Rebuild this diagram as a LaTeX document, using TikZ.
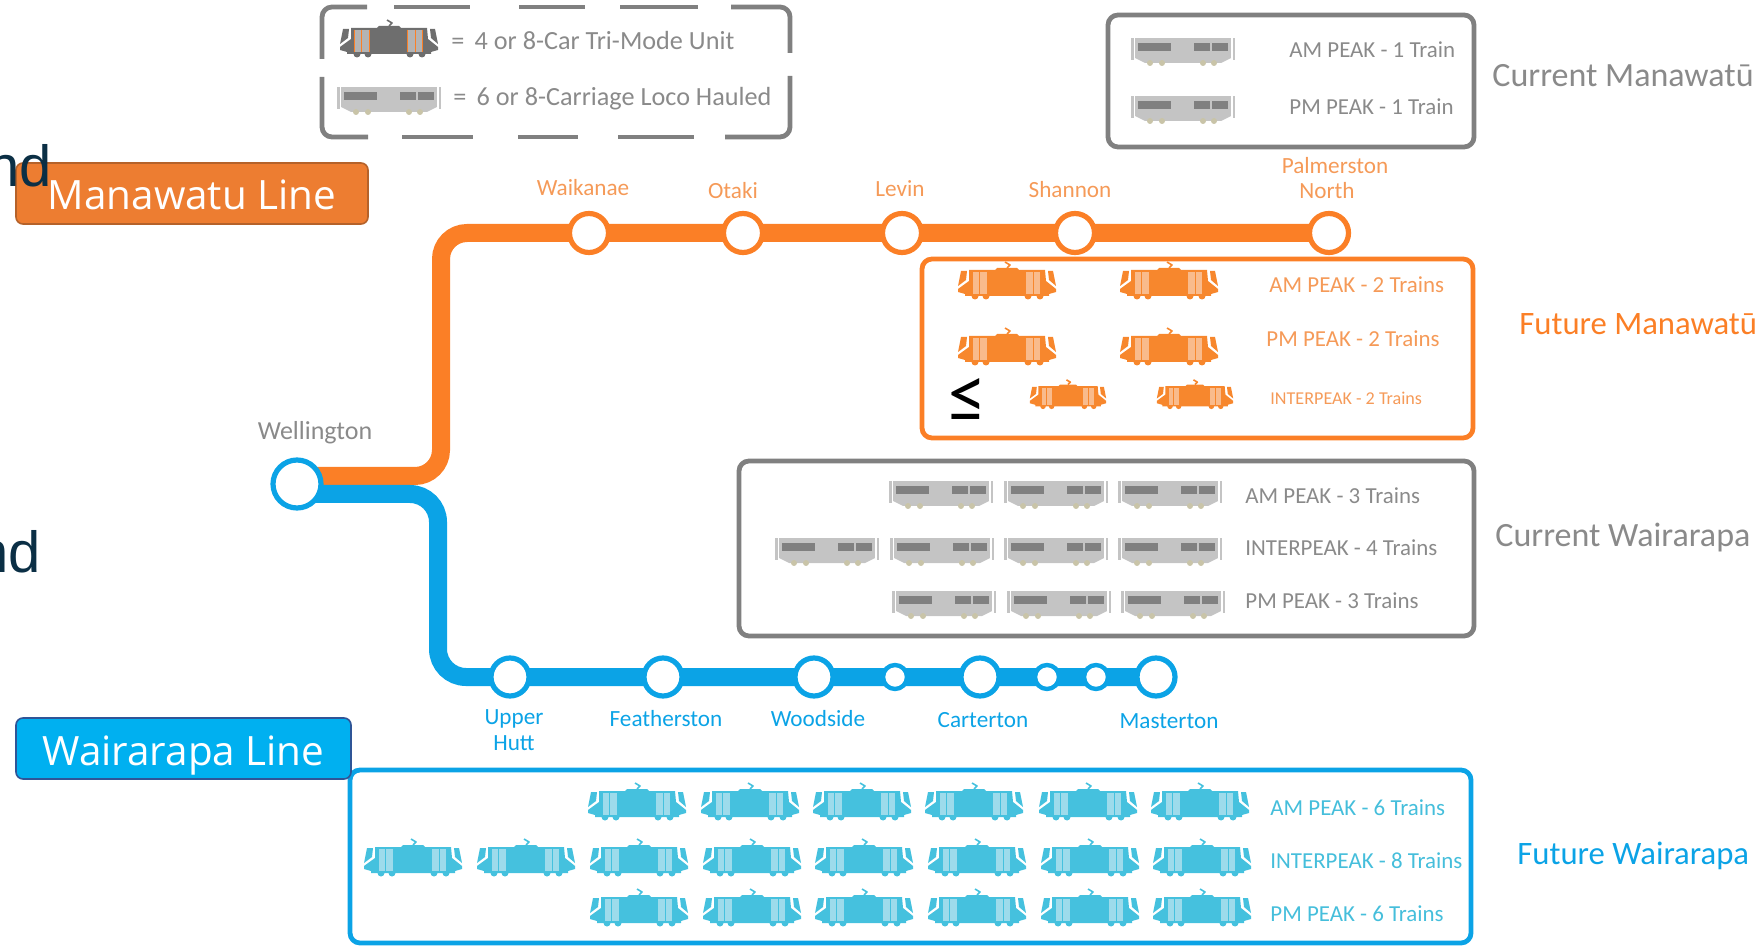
\documentclass[tikz,border=0pt]{standalone}
\usepackage{fontspec}
\setmainfont{Carlito}
\newfontfamily\boxfont{Open Sans}
\newfontfamily\wordfont{Liberation Sans}
\usetikzlibrary{backgrounds}
\definecolor{lineorange}{HTML}{FB7F26}
\definecolor{lineblue}{HTML}{0BA3E6}
\definecolor{boxgrey}{HTML}{808080}
\definecolor{textgrey}{HTML}{8A8A8A}
\definecolor{textorange}{HTML}{F59A58}
\definecolor{texttram}{HTML}{45BEDB}
\definecolor{tramorange}{HTML}{F7872D}
\definecolor{doororange}{HTML}{F9BB8C}
\definecolor{tramblue}{HTML}{45C1DE}
\definecolor{doorblue}{HTML}{9DDBEB}
\definecolor{tramgrey}{HTML}{6E6E6E}
\definecolor{doorgrey}{HTML}{B4B4B4}
\definecolor{locobody}{HTML}{C4C4C4}
\definecolor{locowheel}{HTML}{C9C4A8}
\definecolor{manawatufill}{HTML}{ED7D31}
\definecolor{manawatuedge}{HTML}{B5622A}
\definecolor{wairarapafill}{HTML}{00B0F0}
\definecolor{wairarapaedge}{HTML}{2F5597}
\definecolor{wordnavy}{HTML}{0B2F45}
\tikzset{
  stationorange/.style={circle,draw=lineorange,line width=2.6pt,fill=white,minimum size=19.5pt,inner sep=0pt},
  stationblue/.style={circle,draw=lineblue,line width=2.6pt,fill=white,minimum size=19pt,inner sep=0pt},
  stationsmall/.style={stationblue,minimum size=12pt,line width=2.2pt},
  orangeroute/.style={draw=lineorange,line width=9pt,rounded corners=13pt},
  blueroute/.style={draw=lineblue,line width=9pt,rounded corners=14pt},
  framebox/.style={rounded corners=5pt,line width=2.4pt},
  namelabel/.style={inner sep=0pt,align=center,font=\fontsize{11.6}{12.9}\selectfont},
  rowlabel/.style={anchor=west,inner sep=0pt,font=\fontsize{11.45}{13}\selectfont},
  sidelabel/.style={anchor=west,inner sep=0pt,font=\fontsize{17}{19}\selectfont},
  futurelabel/.style={sidelabel,font=\fontsize{16.35}{19}\selectfont},
  legendlabel/.style={anchor=west,inner sep=0pt,text=textgrey,font=\fontsize{13.1}{15}\selectfont},
  linelabel/.style={rounded corners=3.5pt,line width=0.8pt,text=white,inner sep=0pt,text height=16.5pt,text depth=0pt,font=\boxfont\fontsize{20.2}{22}\selectfont},
  cutword/.style={anchor=base east,inner sep=0pt,text=wordnavy,font=\wordfont\fontsize{29}{30}\selectfont},
  legenddash/.style={draw=boxgrey,line width=2.4pt,rounded corners=5pt},
  pics/tram/.style args={#1/#2/#3}{code={
    \fill[#1] (-38,-14)--(-12,-14)--(-10,-16)--(10,-16)--(12,-14)--(38,-14)--(39,-3)--(49,5)--(49,8)--(42,10)--(42,12)
      --(-42,12)--(-42,10)--(-49,8)--(-49,5)--(-38,-3)--cycle;
    \fill[#1] (-46,-13)--(-40,-13)--(-41,-4)--(-49,2)--cycle;
    \fill[#1] (46,-13)--(41,-13)--(42,-4)--(49,2)--cycle;
    \draw[#1,line width=0.8pt] (0,-16)--(3,-19)--(-2,-22);
    \foreach \w in {-32,-21,21,33} \fill[#1] (\w,12) circle(3.5);
    \foreach \d in {-34,-26.7,19,26.5} \fill[#2] (\d,-12) rectangle +(6.7,22);
    \foreach \d in {-34.4,-27.2,-19.8,18.6,26,33.5} \draw[#3,line width=0.4pt] (\d,-12)--(\d,10);
  }},
  pics/loco/.style={code={
    \fill[locobody] (-48,-12) rectangle (48,8);
    \fill[locobody] (-48,8)--(48,8)--(38,13)--(-38,13)--cycle;
    \fill[locobody] (-52,-12) rectangle (-49.5,10);
    \fill[locobody] (49.5,-12) rectangle (52,10);
    \foreach \w in {-33,-21,20,31} \fill[locowheel] (\w,13) circle(3);
    \fill[boxgrey] (-45,-7) rectangle (-12,1);
    \fill[boxgrey] (11,-7) rectangle (27,1);
    \fill[boxgrey] (29,-7) rectangle (45,1);
  }},
}
\begin{document}
\begin{tikzpicture}[x=0.5pt,y=-0.5pt,line join=round,line cap=butt]
\useasboundingbox (0,0) rectangle (1762,946);
% stations
\foreach \n/\x in {waikanae/589, otaki/743, levin/902, shannon/1075, palmerston/1329}
\node[stationorange] (\n) at (\x,233) {};
\foreach \n/\x in {upperhutt/510, featherston/663, woodside/814, carterton/980, masterton/1156}
\node[stationblue] (\n) at (\x,677) {};
\foreach \n/\x in {stopa/895, stopb/1047, stopc/1096}
\node[stationsmall] (\n) at (\x,677) {};
\node[stationblue,minimum size=24pt] (wellington) at (297,484) {};
\path
(297,476) coordinate (orangestart)
(441,476) coordinate (orangelow)
(441,233) coordinate (orangehigh)
(297,494) coordinate (bluestart)
(438,494) coordinate (bluehigh)
(438,677) coordinate (bluelow)
;
\begin{scope}[on background layer]
\draw[orangeroute] (orangestart)--(orangelow)--(orangehigh)--(palmerston.center);
\draw[blueroute] (bluestart)--(bluehigh)--(bluelow)--(masterton.center);
\end{scope}
% station names
\begin{scope}[text=textorange]
\node[namelabel] (lwaikanae) at (583,188) {Waikanae};
\node[namelabel] (lotaki) at (733,191) {Otaki};
\node[namelabel] (llevin) at (900,189) {Levin};
\node[namelabel] (lshannon) at (1070,190) {Shannon};
\node[namelabel] (lpalmerston) at (1327,178) {\hspace*{8pt}Palmerston\\North};
\end{scope}
\node[namelabel,text=textgrey,font=\fontsize{13}{14}\selectfont] (lwellington) at (315,433) {Wellington};
\begin{scope}[text=lineblue]
\node[namelabel] (lupperhutt) at (514,730) {Upper\\Hutt};
\node[namelabel] (lfeatherston) at (666,719) {Featherston};
\node[namelabel] (lwoodside) at (818,719) {Woodside};
\node[namelabel] (lcarterton) at (983,720) {Carterton};
\node[namelabel] (lmasterton) at (1169,721) {Masterton};
\end{scope}
% legend
\draw[legenddash] (322,59)--(322,7)--(367,7);
\draw[legenddash] (731,7)--(790,7)--(790,53);
\draw[legenddash] (322,77)--(322,137)--(368,137);
\draw[legenddash] (725,137)--(790,137)--(790,76);
\foreach \a/\b in {394/470, 519/585, 620/698}
\draw[legenddash] (\a,7)--(\b,7);
\foreach \a/\b in {402/473, 518/578, 618/694}
\draw[legenddash] (\a,137)--(\b,137);
\pic at (389,42) {tram={tramgrey/doorgrey/lineorange}};
\pic at (389,99) {loco};
\node[legendlabel] (legendtram) at (451,41) {= \,4 or 8-Car Tri-Mode Unit};
\node[legendlabel] (legendloco) at (453,99) {= \,6 or 8-Carriage Loco Hauled};
% frames
\draw[framebox,boxgrey] (1108,15) rectangle (1474,147);
\draw[framebox,lineorange] (922,259) rectangle (1473,438);
\draw[framebox,boxgrey] (739,461) rectangle (1474,636);
\draw[framebox,lineblue] (350,770) rectangle (1471,943);
% current manawatu
\foreach \y in {50,108} \pic at (1183,\y) {loco};
\node[rowlabel,text=textgrey] (camrow) at (1289,50) {AM PEAK - 1 Train};
\node[rowlabel,text=textgrey] (cpmrow) at (1289,107) {PM PEAK - 1 Train};
\node[sidelabel,text=textgrey] (cmtitle) at (1492,76) {Current Manawatū};
% future manawatu
\foreach \x in {1007,1169} {
\pic at (\x,284) {tram={tramorange/doororange/tramorange}};
\pic at (\x,350) {tram={tramorange/doororange/tramorange}};
}
\foreach \x in {1068,1195} \pic[scale=0.78] at (\x,397) {tram={tramorange/doororange/tramorange}};
\node[inner sep=0pt,font=\fontsize{38}{38}\selectfont] (leqsign) at (967,401) {\scalebox{1}[1.05]{≤}};
\node[rowlabel,text=textorange] (famrow) at (1269,285) {AM PEAK - 2 Trains};
\node[rowlabel,text=textorange] (fpmrow) at (1266,339) {PM PEAK - 2 Trains};
\node[rowlabel,text=textorange,font=\fontsize{9.05}{11}\selectfont] (fiprow) at (1270,398) {INTERPEAK - 2 Trains};
\node[futurelabel,text=lineorange] (fmtitle) at (1519,324) {Future Manawatū};
% current wairarapa
\foreach \x in {941,1056,1170} \pic at (\x,493) {loco};
\foreach \x in {827,942,1056,1170} \pic at (\x,550) {loco};
\foreach \x in {944,1059,1173} \pic at (\x,603) {loco};
\node[rowlabel,text=textgrey] (wamrow) at (1245,496) {AM PEAK - 3 Trains};
\node[rowlabel,text=textgrey] (wiprow) at (1245,548) {INTERPEAK - 4 Trains};
\node[rowlabel,text=textgrey] (wpmrow) at (1245,601) {PM PEAK - 3 Trains};
\node[sidelabel,text=textgrey] (cwtitle) at (1495,538) {Current Wairarapa};
% future wairarapa
\foreach \x in {637,750,862,974,1088,1200} \pic at (\x,805) {tram={tramblue/doorblue/tramblue}};
\foreach \x in {413,526,639,752,864,977,1090,1202} \pic at (\x,861) {tram={tramblue/doorblue/tramblue}};
\foreach \x in {639,752,864,977,1090,1202} \pic at (\x,911) {tram={tramblue/doorblue/tramblue}};
\node[rowlabel,text=texttram] (xamrow) at (1270,808) {AM PEAK - 6 Trains};
\node[rowlabel,text=texttram] (xiprow) at (1270,861) {INTERPEAK - 8 Trains};
\node[rowlabel,text=texttram] (xpmrow) at (1270,914) {PM PEAK - 6 Trains};
\node[futurelabel,text=lineblue] (fwtitle) at (1517,856) {Future Wairarapa};
% line names
\node[linelabel,draw=manawatuedge,fill=manawatufill,minimum width=176pt,minimum height=30.5pt] (manawatuline) at (192,193.5) {Manawatu Line};
\node[linelabel,draw=wairarapaedge,fill=wairarapafill,minimum width=167.5pt,minimum height=30.5pt] (wairarapaline) at (183.5,748.5) {Wairarapa Line};
% cut off words
\node[cutword] (wordone) at (52,187) {nd};
\node[cutword] (wordtwo) at (41,572) {nd};
\end{tikzpicture}
\end{document}
